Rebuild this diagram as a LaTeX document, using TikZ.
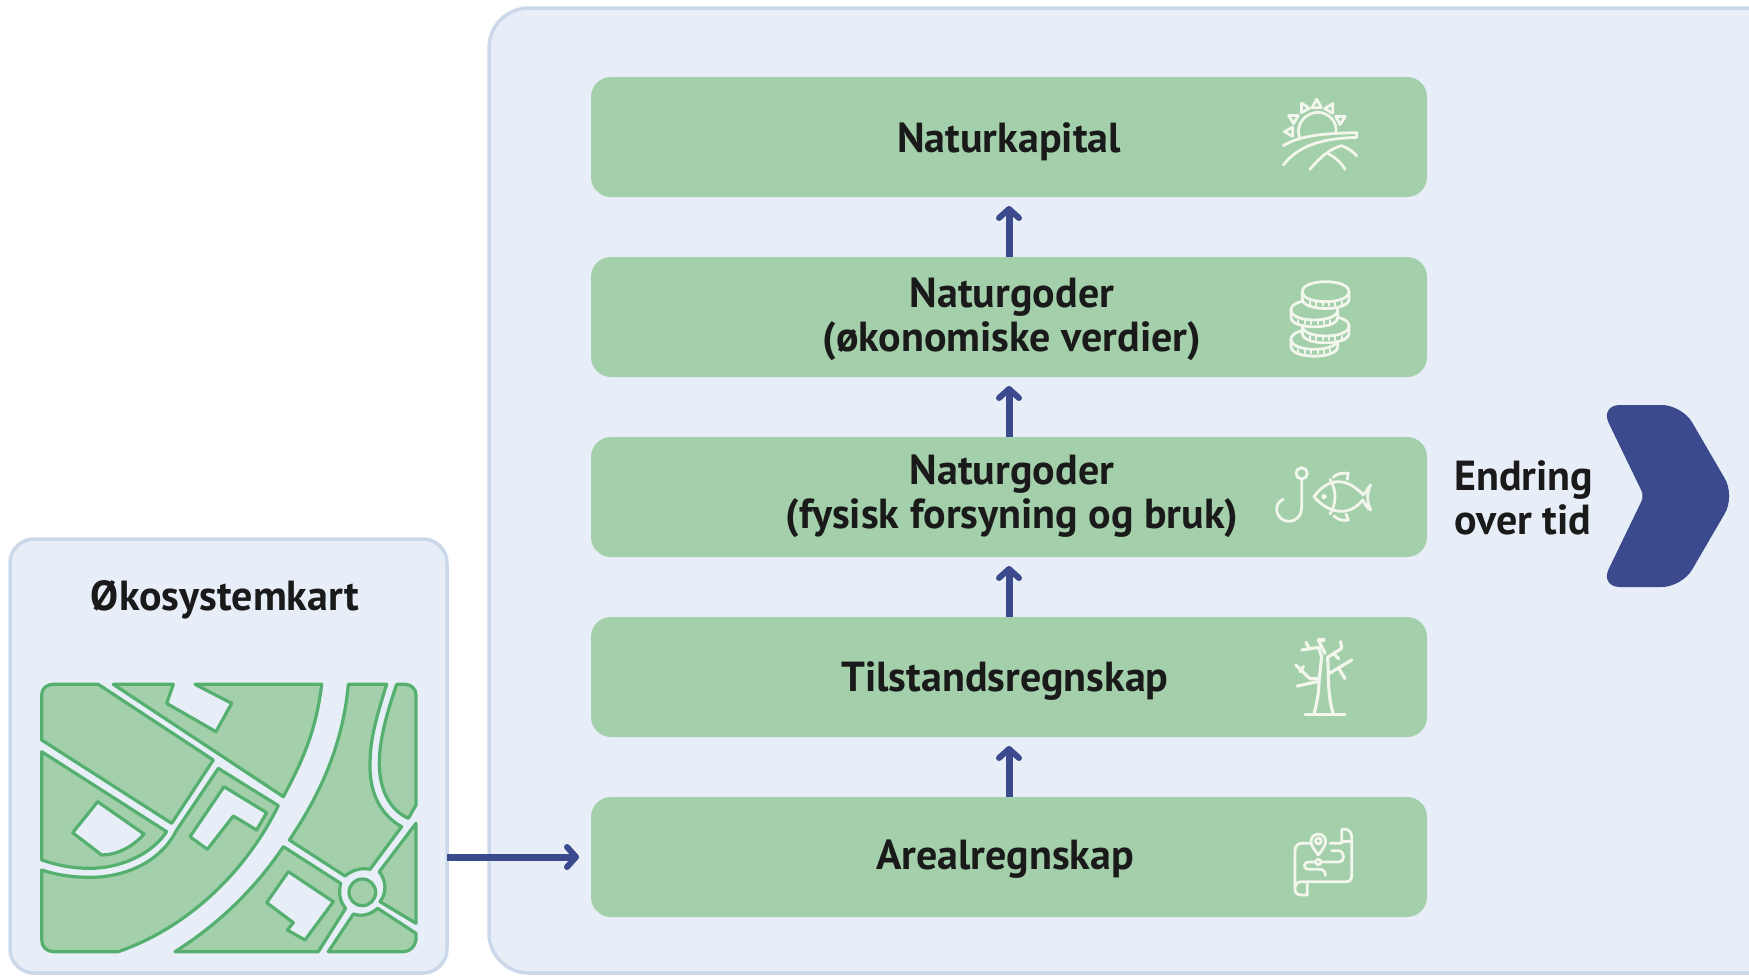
\documentclass[tikz,border=0pt]{standalone}
\usepackage{fontspec}
\setmainfont{PT Sans}
\usetikzlibrary{arrows.meta,calc}
\definecolor{panel}{HTML}{E7EEF7}
\definecolor{panelb}{HTML}{CBD8EA}
\definecolor{boxg}{HTML}{A3CFAA}
\definecolor{mapg}{HTML}{55B070}
\definecolor{navy}{HTML}{3A4A8C}
\definecolor{ink}{HTML}{1A1A1A}
\definecolor{icw}{HTML}{F2F6EC}
\tikzset{
 x=1pt,y=-1pt,
 layer/.style={fill=boxg,rounded corners=20pt,minimum width=836pt,minimum height=120pt,inner sep=0,outer sep=0},
 lbl/.style={font=\bfseries\fontsize{42}{44}\selectfont,text=ink,align=center,inner sep=0},
 up/.style={draw=navy,line width=7pt,-{Straight Barb[length=9pt,width=20pt,line width=6pt,round]}},
 ic/.style={draw=icw,line width=2.8pt,line cap=round,line join=round},
 blk/.style={fill=boxg,draw=mapg,line width=3.2pt,line join=round},
 hole/.style={fill=panel,draw=mapg,line width=3.2pt,line join=round},
 zoomed/.style={shift={(#1)},x=0.33333pt,y=-0.33333pt},
}
\begin{document}
\begin{tikzpicture}
\useasboundingbox (0,0) rectangle (1749,975);
\fill[white] (0,0) rectangle (1749,975);
\path[clip] (0,0) rectangle (1749,975);
\draw[fill=panel,draw=panelb,line width=3.5pt,rounded corners=40pt] (489,973) -- (489,8) -- (1800,8) -- (1800,973) -- cycle;
\node[fill=panel,draw=panelb,line width=3.5pt,rounded corners=24pt,minimum width=437pt,minimum height=434pt,inner sep=0,outer sep=0] (mapp) at (228.5,756) {};
\node[lbl] (oko) at (225,600) {Økosystemkart};
% layers
\node[layer] (a) at (1009,137) {};
\node[layer] (b) at (1009,317) {};
\node[layer] (c) at (1009,497) {};
\node[layer] (d) at (1009,677) {};
\node[layer] (e) at (1009,857) {};
\node[lbl] (ta) at (1009,142) {Naturkapital};
\node[lbl] (tb) at (1012,319) {Naturgoder\\(økonomiske verdier)};
\node[lbl] (tc) at (1012,496) {Naturgoder\\(fysisk forsyning og bruk)};
\node[lbl] (td) at (1005,681) {Tilstandsregnskap};
\node[lbl] (te) at (1005,859) {Arealregnskap};
\node[lbl,align=left,anchor=west] (tf) at (1454,498) {Endring\\over tid};
\draw[up,shorten >=9pt] (b.north) -- (a.south);
\draw[up,shorten >=9pt] (c.north) -- (b.south);
\draw[up,shorten >=9pt] (d.north) -- (c.south);
\draw[up,shorten >=9pt] (e.north) -- (d.south);
\draw[up,shorten >=12pt] (mapp.east |- e.west) -- (e.west);
% chevron
\fill[navy,rounded corners=20pt] (1600,405) -- (1682,405) -- (1735,496) -- (1682,587) -- (1600,587) [rounded corners=6pt] -- (1644,496) [rounded corners=20pt] -- cycle;
% map
\begin{scope}[zoomed={0,640}]
\draw[blk] (125,300) -- (125,165) .. controls (125,145) and (140,133) .. (160,133) -- (295,133) -- (640,360) -- (515,550) -- cycle;
\draw[blk] (340,133) -- (520,133) -- (500,190) -- (648,275) -- (695,190) -- (585,133) -- (965,133) .. controls (950,260) and (915,350) .. (850,470) -- cycle;
\draw[blk] (125,335) -- (500,575) .. controls (450,650) and (350,685) .. (270,685) .. controls (215,685) and (170,675) .. (125,660) -- cycle;
\draw[hole] (293,485) -- (432,582) .. controls (400,620) and (350,645) .. (305,645) -- (218,578) -- cycle;
\draw[blk] (125,690) .. controls (170,705) and (220,712) .. (270,712) .. controls (370,712) and (480,670) .. (530,570) -- (655,385) -- (835,497) .. controls (740,690) and (570,860) .. (355,935) -- (160,935) .. controls (140,935) and (125,920) .. (125,900) -- cycle;
\draw[hole] (672,440) -- (800,518) -- (770,570) -- (700,528) -- (622,628) -- (570,590) -- cycle;
\draw[blk] (1045,133) -- (1160,133) .. controls (1120,260) and (1110,310) .. (1110,380) .. controls (1110,470) and (1150,530) .. (1205,560) -- (1110,688) .. controls (1085,683) and (1060,688) .. (1035,708) -- (868,600) .. controls (970,450) and (1030,300) .. (1045,133) -- cycle;
\draw[blk] (1190,133) -- (1215,133) .. controls (1235,133) and (1248,148) .. (1248,165) -- (1248,495) -- (1225,535) .. controls (1170,510) and (1138,450) .. (1138,370) .. controls (1138,300) and (1160,220) .. (1190,133) -- cycle;
\draw[blk] (1248,550) -- (1138,695) .. controls (1160,725) and (1160,760) .. (1140,785) -- (1248,850) -- cycle;
\draw[blk] (850,620) -- (1022,730) .. controls (1015,760) and (1020,785) .. (1037,805) -- (955,935) -- (525,935) .. controls (660,850) and (770,740) .. (850,620) -- cycle;
\draw[hole] (865,695) -- (1000,785) -- (915,900) -- (862,870) -- (880,848) -- (800,788) -- cycle;
\draw[blk] (1133,805) -- (1248,880) -- (1248,900) .. controls (1245,920) and (1230,935) .. (1210,935) -- (985,935) -- (1060,822) .. controls (1085,830) and (1110,825) .. (1133,805) -- cycle;
\draw[blk] (1087,757) circle[radius=40];
\end{scope}
% sun icon
\begin{scope}[zoomed={1250,80}]
\foreach \ang in {-180,-150,-118,-90,-60,-28}{
 \draw[ic] ($(200,155)+(\ang:72)+(\ang+90:14)$) -- ($(200,155)+(\ang:97)$) -- ($(200,155)+(\ang:72)+(\ang-90:14)$) -- cycle;
}
\draw[ic] (148,172) .. controls (135,130) and (170,97) .. (203,97) .. controls (235,97) and (262,125) .. (258,155);
\draw[ic] (100,197) .. controls (150,165) and (230,160) .. (320,158) -- (320,172) .. controls (230,175) and (150,190) .. (100,255);
\draw[ic] (180,268) .. controls (215,225) and (245,205) .. (275,197) .. controls (295,205) and (310,215) .. (320,228);
\draw[ic] (235,222) .. controls (255,230) and (275,250) .. (285,268);
\end{scope}
% coins icon
\begin{scope}[zoomed={1250,80}]
\foreach \cx/\cy in {193/778,227/738,193/690,227/635}{
 \draw[ic,fill=boxg] (\cx-70,\cy) -- (\cx-70,\cy+22) .. controls (\cx-70,\cy+60) and (\cx+70,\cy+60) .. (\cx+70,\cy+22) -- (\cx+70,\cy) .. controls (\cx+70,\cy-40) and (\cx-70,\cy-40) .. (\cx-70,\cy) -- cycle;
 \draw[ic] (\cx-70,\cy) .. controls (\cx-70,\cy+40) and (\cx+70,\cy+40) .. (\cx+70,\cy);
 \foreach \dx in {-48,-28,-9,10,29,48}{
  \draw[ic,line width=2pt] (\cx+\dx,\cy+30) -- (\cx+\dx,\cy+42);
 }
}
\end{scope}
% fish + hook, tree, map
\begin{scope}[zoomed={1250,440}]
\draw[ic] (155,100) circle[radius=17];
\draw[ic] (155,117) -- (155,200) .. controls (155,260) and (80,255) .. (80,207) .. controls (80,192) and (90,182) .. (100,178);
\draw[ic] (192,170) .. controls (220,130) and (275,95) .. (340,165) .. controls (350,155) and (355,140) .. (362,135) .. controls (350,160) and (350,185) .. (362,210) .. controls (350,205) and (345,190) .. (338,180) .. controls (290,240) and (225,210) .. (192,170) -- cycle;
\draw[ic] (240,118) .. controls (260,150) and (260,190) .. (240,222);
\draw[ic] (250,112) .. controls (260,100) and (280,98) .. (295,100) -- (292,118);
\draw[ic] (252,228) .. controls (265,240) and (280,243) .. (295,240) -- (288,222);
\fill[icw] (222,170) circle[radius=8];
% tree
\begin{scope}[ic,line width=3.2pt]
\draw (165,823) -- (285,823);
\draw (192,823) .. controls (200,790) and (207,760) .. (207,722) -- (215,650) -- (205,622) -- (155,630);
\draw (250,823) .. controls (240,790) and (235,750) .. (235,700) -- (233,652) -- (275,625) -- (272,605);
\draw (205,600) -- (225,640);
\draw (205,600) -- (222,600);
\draw (168,607) -- (178,627);
\draw (250,640) -- (266,656);
\draw (235,702) -- (305,660);
\draw (268,688) -- (285,716);
\draw (142,738) -- (207,724);
\draw (137,675) -- (180,716) -- (207,716);
\draw (160,680) -- (150,695);
\end{scope}
% scroll map
\draw[ic] (180,1210) -- (155,1210) .. controls (142,1210) and (135,1220) .. (135,1232) -- (135,1350) .. controls (135,1360) and (145,1365) .. (155,1365) -- (172,1365) -- (172,1325) -- (155,1325) .. controls (143,1325) and (135,1333) .. (135,1345);
\draw[ic] (172,1325) -- (290,1325) .. controls (300,1325) and (305,1318) .. (305,1305) -- (305,1190) .. controls (305,1175) and (295,1168) .. (285,1168) -- (275,1168) -- (275,1210) -- (240,1210);
\draw[ic] (275,1205) -- (305,1205);
\draw[ic] (205,1245) .. controls (190,1225) and (183,1215) .. (183,1205) .. controls (183,1175) and (227,1175) .. (227,1205) .. controls (227,1215) and (220,1225) .. (205,1245) -- cycle;
\draw[ic] (205,1203) circle[radius=9];
\draw[ic] (205,1266) circle[radius=8];
\draw[ic] (197,1266) -- (178,1266) .. controls (158,1266) and (158,1288) .. (178,1288) -- (210,1288) .. controls (220,1288) and (226,1295) .. (226,1306);
\draw[ic] (213,1266) -- (268,1266) .. controls (285,1266) and (285,1232) .. (265,1232) -- (245,1232);
\end{scope}
\end{tikzpicture}
\end{document}
